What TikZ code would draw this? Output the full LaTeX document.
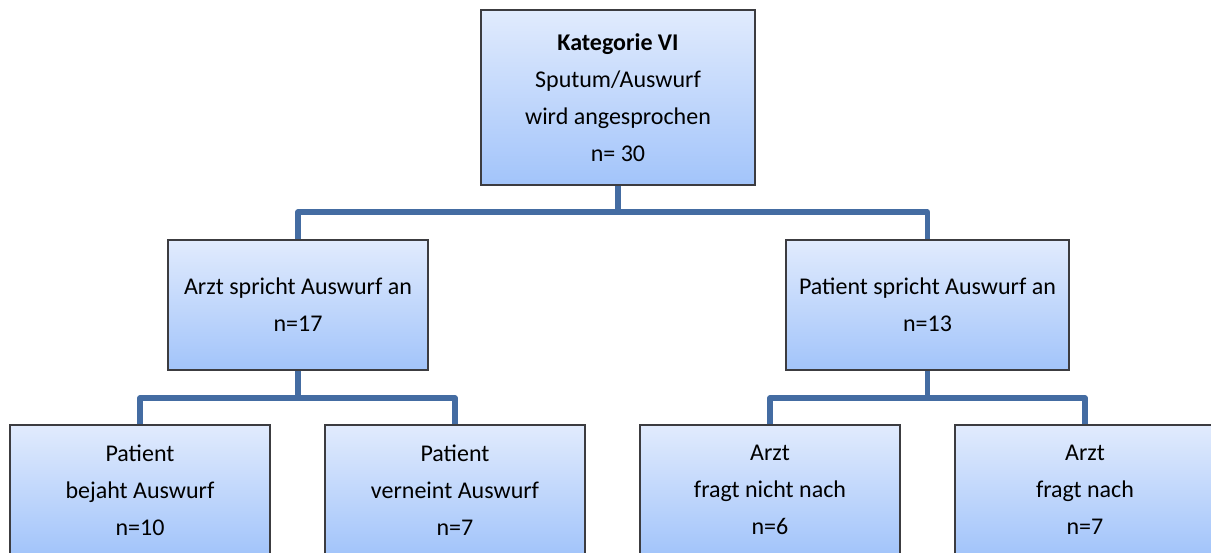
\documentclass[tikz,border=0pt]{standalone}
\usepackage{fontspec}
\setmainfont{Carlito}
\usepackage{tikz}

\definecolor{boxTop}{RGB}{225,235,253}
\definecolor{boxBottom}{RGB}{162,196,250}
\definecolor{boxLine}{RGB}{60,60,64}
\definecolor{linkColor}{RGB}{68,108,162}

\tikzset{
  catbox/.style = {draw = boxLine, line width = 0.6pt, top color = boxTop, bottom color = boxBottom,
                   align = center, inner sep = 0pt, font = \fontsize{12pt}{18.5pt}\selectfont},
  link/.style = {draw = linkColor, line width = 2.6pt, line join = round}
}

\begin{document}
\begin{tikzpicture}[x = 0.5pt, y = -0.5pt]
            % picture in pixel units, y downwards
            \path [use as bounding box, clip] (0,0) rectangle (1211,552);

            % top level
            \node [catbox, minimum width = 137pt, minimum height = 87.5pt] (top) at (618,97.5)
                {\textbf{Kategorie VI}\\Sputum/Auswurf\\wird angesprochen\\n= 30};

            % second level
            \node [catbox, minimum width = 130pt, minimum height = 65pt] (arzt) at (298,305)
                {Arzt spricht Auswurf an\\n=17};
            \node [catbox, minimum width = 141.5pt, minimum height = 65pt] (patient) at (927.5,305)
                {Patient spricht Auswurf an\\n=13};

            % third level (cut off at the bottom)
            \node [catbox, minimum width = 130pt, minimum height = 65pt] (bejaht) at (140,490)
                {Patient\\bejaht Auswurf\\n=10};
            \node [catbox, minimum width = 130pt, minimum height = 65pt] (verneint) at (455,490)
                {Patient\\verneint Auswurf\\n=7};
            \node [catbox, minimum width = 130pt, minimum height = 65pt] (nichtnach) at (770,490)
                {Arzt\\fragt nicht nach\\n=6};
            \node [catbox, minimum width = 130pt, minimum height = 65pt] (nach) at (1085,490)
                {Arzt\\fragt nach\\n=7};

            % connectors
            \coordinate (topJoin) at (618,212);
            \coordinate (arztJoin) at (298,398);
            \coordinate (patientJoin) at (927.5,398);

            \draw [link] (top.south) -- (topJoin);
            \draw [link] (arzt.north) |- (topJoin) -| (patient.north);

            \draw [link] (arzt.south) -- (arztJoin);
            \draw [link] (bejaht.north) |- (arztJoin) -| (verneint.north);

            \draw [link] (patient.south) -- (patientJoin);
            \draw [link] (nichtnach.north) |- (patientJoin) -| (nach.north);
\end{tikzpicture}
\end{document}
